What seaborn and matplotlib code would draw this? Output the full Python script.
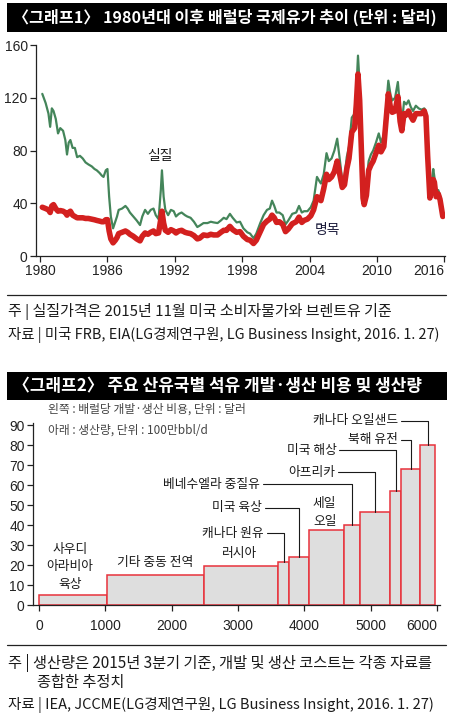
import numpy as np
import pandas as pd
import seaborn as sns
import matplotlib
matplotlib.use('Agg')
import matplotlib.pyplot as plt
from matplotlib.patches import Rectangle
from matplotlib.lines import Line2D

# ---- 그래프1 data: 배럴당 국제유가 (달러) ----
years = [1980.2, 1980.5, 1980.75, 1980.9, 1981.05, 1981.2, 1981.4, 1981.6, 1981.8,
         1982.05, 1982.25, 1982.4, 1982.55, 1982.7, 1982.9, 1983.1, 1983.3, 1983.55,
         1983.8, 1984.05, 1984.3, 1984.6, 1984.85, 1985.05, 1985.3, 1985.5, 1985.65,
         1985.85, 1986.0, 1986.15, 1986.3, 1986.5, 1986.7, 1986.85, 1987.0, 1987.3,
         1987.6, 1987.8, 1988.0, 1988.3, 1988.6, 1988.9, 1989.1, 1989.35, 1989.6,
         1989.85, 1990.1, 1990.3, 1990.55, 1990.75, 1990.85, 1991.0, 1991.15, 1991.4,
         1991.65, 1991.9, 1992.1, 1992.35, 1992.6, 1992.9, 1993.1, 1993.4, 1993.7,
         1994.0, 1994.2, 1994.55, 1994.9, 1995.2, 1995.45, 1995.8, 1996.1, 1996.35,
         1996.6, 1996.9, 1997.15, 1997.5, 1997.8, 1998.1, 1998.45, 1998.7, 1999.0,
         1999.25, 1999.6, 1999.9, 2000.2, 2000.45, 2000.65, 2000.85, 2001.05, 2001.3,
         2001.6, 2001.85, 2002.1, 2002.45, 2002.8, 2003.05, 2003.3, 2003.5, 2003.8,
         2004.1, 2004.35, 2004.65, 2004.85, 2005.0, 2005.25, 2005.5, 2005.7, 2005.95,
         2006.2, 2006.45, 2006.7, 2006.9, 2007.1, 2007.3, 2007.5, 2007.75, 2008.0,
         2008.15, 2008.3, 2008.45, 2008.6, 2008.75, 2008.85, 2009.05, 2009.25, 2009.45,
         2009.65, 2009.9, 2010.15, 2010.35, 2010.6, 2010.85, 2011.0, 2011.2, 2011.35,
         2011.6, 2011.85, 2012.05, 2012.2, 2012.4, 2012.6, 2012.8, 2013.0, 2013.2,
         2013.45, 2013.7, 2013.95, 2014.2, 2014.35, 2014.5, 2014.7, 2014.85, 2015.0,
         2015.1, 2015.25, 2015.45, 2015.6, 2015.85]
real_price = [123, 116, 108, 98, 112, 110, 104, 93, 97,
              95, 88, 77, 86, 88, 82, 82, 75, 76,
              74, 71, 69.5, 68, 66, 65, 63, 61, 60,
              65, 66, 45, 30, 21, 26, 30, 35, 36,
              38, 36, 33, 30, 27, 23.5, 30, 35, 32,
              35, 36, 31, 28, 50, 65, 45, 35, 31,
              35, 34, 30, 32, 33, 31, 30, 29, 26,
              22, 23, 25, 25, 26, 25.5, 25, 27, 29,
              28, 32, 29, 25.5, 26, 21, 18, 17, 13.5,
              17, 25, 31, 35, 36, 42, 38, 33, 33,
              31, 24, 27, 32, 33, 38, 33, 34, 34,
              37, 42, 60, 57, 55, 62, 78, 72, 74,
              80, 89, 72, 57, 60, 75, 83, 105, 108,
              125, 152, 130, 90, 55, 50, 56, 72, 77,
              80, 86, 93, 86, 92, 118, 133, 122, 118,
              120, 132, 112, 100, 117, 115, 118, 113, 110,
              114, 112, 111, 112, 110, 80, 47, 55, 66,
              60, 47, 50, 46, 31]
nominal_price = [37, 36, 35, 33, 38, 39, 36, 34, 34.5,
                 34, 33, 31, 33, 34, 31, 30, 29, 29,
                 29, 28.5, 28.5, 28, 27.5, 27, 26.5, 26, 26,
                 27.5, 27.6, 19, 13, 10, 12, 14, 17, 18,
                 19, 18, 16.5, 15, 13, 11.5, 15, 17.5, 16.5,
                 18, 19, 17, 17.5, 28, 34, 25, 19.5, 18,
                 20, 19, 17.5, 19, 19.5, 18, 17.5, 17, 15.5,
                 13, 13.5, 16, 15.5, 16.5, 16, 16, 18, 19.5,
                 19.5, 22.5, 20, 18, 18.5, 15, 12.5, 12, 9.5,
                 12, 18.5, 24, 26.5, 28, 31, 29, 25.5, 26,
                 24, 18.5, 20.5, 24.5, 26, 29.5, 25.5, 27, 28,
                 30.5, 35, 45, 44, 42, 51, 62, 58, 60,
                 64, 72, 61, 52, 54, 66, 74, 94, 97,
                 115, 138, 118, 80, 44, 39, 46, 65, 69,
                 72, 78, 84, 79, 83, 108, 123, 112, 109,
                 110, 121, 102, 95, 108, 107, 110, 106, 103,
                 108, 108, 108, 110, 106, 76, 44, 52, 58,
                 56, 45, 47, 43, 30]
year_ticks = [1980, 1986, 1992, 1998, 2004, 2010, 2016]
price_ticks = [0, 40, 80, 120, 160]

# ---- 그래프2 data: 개발·생산 비용 (달러/배럴), 생산량 누적 (100만bbl/d) ----
producers = ['사우디\n아라비아\n육상', '기타 중동 전역', '러시아', '캐나다 원유', '미국 육상',
             '세일\n오일', '베네수엘라 중질유', '아프리카', '미국 해상', '북해 유전', '캐나다 오일샌드']
output_edges = [0, 1030, 2490, 3600, 3775, 4075, 4595, 4835, 5290, 5460, 5740, 5975]
cost = [5, 15, 19.5, 21.5, 24, 37.5, 40, 46.5, 57, 68, 80]
cost_ticks = list(range(0, 100, 10))
output_ticks = [0, 1000, 2000, 3000, 4000, 5000, 6000]

# label layout: (x, y, ha, leader)  leader=True draws an elbow line to the bar
label_layout = [
    (467, 19.1, 'center', False),
    (1747, 21.1, 'center', False),
    (3027, 25.6, 'center', False),
    (3389, 36.0, 'right', True),
    (3354, 48.6, 'right', True),
    (4307, 46.2, 'center', False),
    (3328, 60.3, 'right', True),
    (4458, 66.5, 'right', True),
    (4483, 77.4, 'right', True),
    (5411, 82.6, 'right', True),
    (5407, 92.1, 'right', True),
]

sns.set_style('ticks')
plt.rcParams['font.family'] = ['Noto Sans CJK KR', 'DejaVu Sans']
num_font = ['Liberation Sans Narrow', 'Liberation Sans', 'Noto Sans CJK KR']

fig = plt.figure(figsize=(4.5, 7.2), dpi=100)

# ---- banners ----
for y0, h, title, fs in [(0.9556, 0.0403, '〈그래프1〉 1980년대 이후 배럴당 국제유가 추이 (단위 : 달러)', 11.6),
                         (0.4444, 0.0389, '〈그래프2〉 주요 산유국별 석유 개발·생산 비용 및 생산량', 12.2)]:
    fig.patches.append(Rectangle((0.0156, y0), 0.9778, h, transform=fig.transFigure,
                                 facecolor='black', edgecolor='none'))
    fig.text(0.028, y0 + h / 2, title, color='white', fontsize=fs, fontweight='bold',
             va='center', ha='left')

# ---- 그래프1 ----
ax1 = fig.add_axes([0.08, 0.6444, 0.909, 0.293])
df = pd.DataFrame({'year': years, 'real': real_price, 'nominal': nominal_price})
sns.lineplot(data=df, x='year', y='real', ax=ax1, color='#44855a', linewidth=1.6)
sns.lineplot(data=df, x='year', y='nominal', ax=ax1, color='#d3201f', linewidth=4.0)
ax1.set_xlim(1979.64, 2016.05)
ax1.set_ylim(0, 160)
ax1.set_xticks(year_ticks)
ax1.set_yticks(price_ticks)
ax1.set_xlabel('')
ax1.set_ylabel('')
sns.despine(ax=ax1)
ax1.tick_params(axis='both', length=4, width=0.9, color='#222', pad=2,
                labelsize=10, labelcolor='#222')
for lab in ax1.get_xticklabels() + ax1.get_yticklabels():
    lab.set_family(num_font)
ax1.get_xticklabels()[-1].set_horizontalalignment('right')
for s in ['left', 'bottom']:
    ax1.spines[s].set_linewidth(0.9)
    ax1.spines[s].set_color('#222')
ax1.text(1990.7, 76, '실질', fontsize=10, ha='center', va='center', color='#1a1a1a')
ax1.text(2005.6, 20, '명목', fontsize=10, ha='center', va='center', color='#1a1a3a')

# rule + notes
fig.lines.append(Line2D([0.0156, 0.99], [0.5903, 0.5903], transform=fig.transFigure,
                        color='#222', linewidth=0.9))
fig.text(0.018, 0.5667, '주 | 실질가격은 2015년 11월 미국 소비자물가와 브렌트유 기준',
         fontsize=10.8, va='center', color='#1a1a1a')
fig.text(0.018, 0.5347, '자료 | 미국 FRB, EIA(LG경제연구원, LG Business Insight, 2016. 1. 27)',
         fontsize=10.4, va='center', color='#1a1a1a')

# ---- 그래프2 ----
ax2 = fig.add_axes([0.0733, 0.1597, 0.904, 0.2528])
mids = [(a + b) / 2 for a, b in zip(output_edges[:-1], output_edges[1:])]
sns.histplot(x=mids, weights=cost, bins=output_edges, ax=ax2, stat='count',
             color='#dedede', edgecolor='#e8323c', linewidth=1.1, alpha=1)
ax2.set_xlim(-90, 6040)
ax2.set_ylim(0, 91)
ax2.set_xticks(output_ticks)
ax2.set_yticks(cost_ticks)
ax2.set_xlabel('')
ax2.set_ylabel('')
sns.despine(ax=ax2)
ax2.tick_params(axis='x', length=4, width=0.9, color='#222', pad=6,
                labelsize=10, labelcolor='#222')
ax2.tick_params(axis='y', length=4, width=0.9, color='#222', pad=2,
                labelsize=10, labelcolor='#222')
for lab in ax2.get_xticklabels() + ax2.get_yticklabels():
    lab.set_family(num_font)
ax2.get_xticklabels()[-1].set_horizontalalignment('right')
for s in ['left', 'bottom']:
    ax2.spines[s].set_linewidth(0.9)
    ax2.spines[s].set_color('#222')

for name, m, h, (lx, ly, ha, leader) in zip(producers, mids, cost, label_layout):
    ax2.text(lx, ly, name, fontsize=9.2, ha=ha, va='center', linespacing=1.45,
             color='#1a1a1a', clip_on=False)
    if leader:
        ax2.plot([lx + 45, m, m], [ly, ly, h], color='#1a1a1a', linewidth=0.8,
                 clip_on=False)

ax2.text(130, 98, '왼쪽 : 배럴당 개발·생산 비용, 단위 : 달러', fontsize=8.5,
         color='#444', va='center', clip_on=False)
ax2.text(130, 87.5, '아래 : 생산량, 단위 : 100만bbl/d', fontsize=8.5,
         color='#444', va='center', clip_on=False)

fig.lines.append(Line2D([0.0156, 0.99], [0.1042, 0.1042], transform=fig.transFigure,
                        color='#222', linewidth=0.9))
fig.text(0.018, 0.0792, '주 | 생산량은 2015년 3분기 기준, 개발 및 생산 코스트는 각종 자료를',
         fontsize=11, va='center', color='#1a1a1a')
fig.text(0.082, 0.0514, '종합한 추정치', fontsize=11, va='center', color='#1a1a1a')
fig.text(0.018, 0.0208, '자료 | IEA, JCCME(LG경제연구원, LG Business Insight, 2016. 1. 27)',
         fontsize=10.5, va='center', color='#1a1a1a')

fig.savefig('out.png', dpi=100)
